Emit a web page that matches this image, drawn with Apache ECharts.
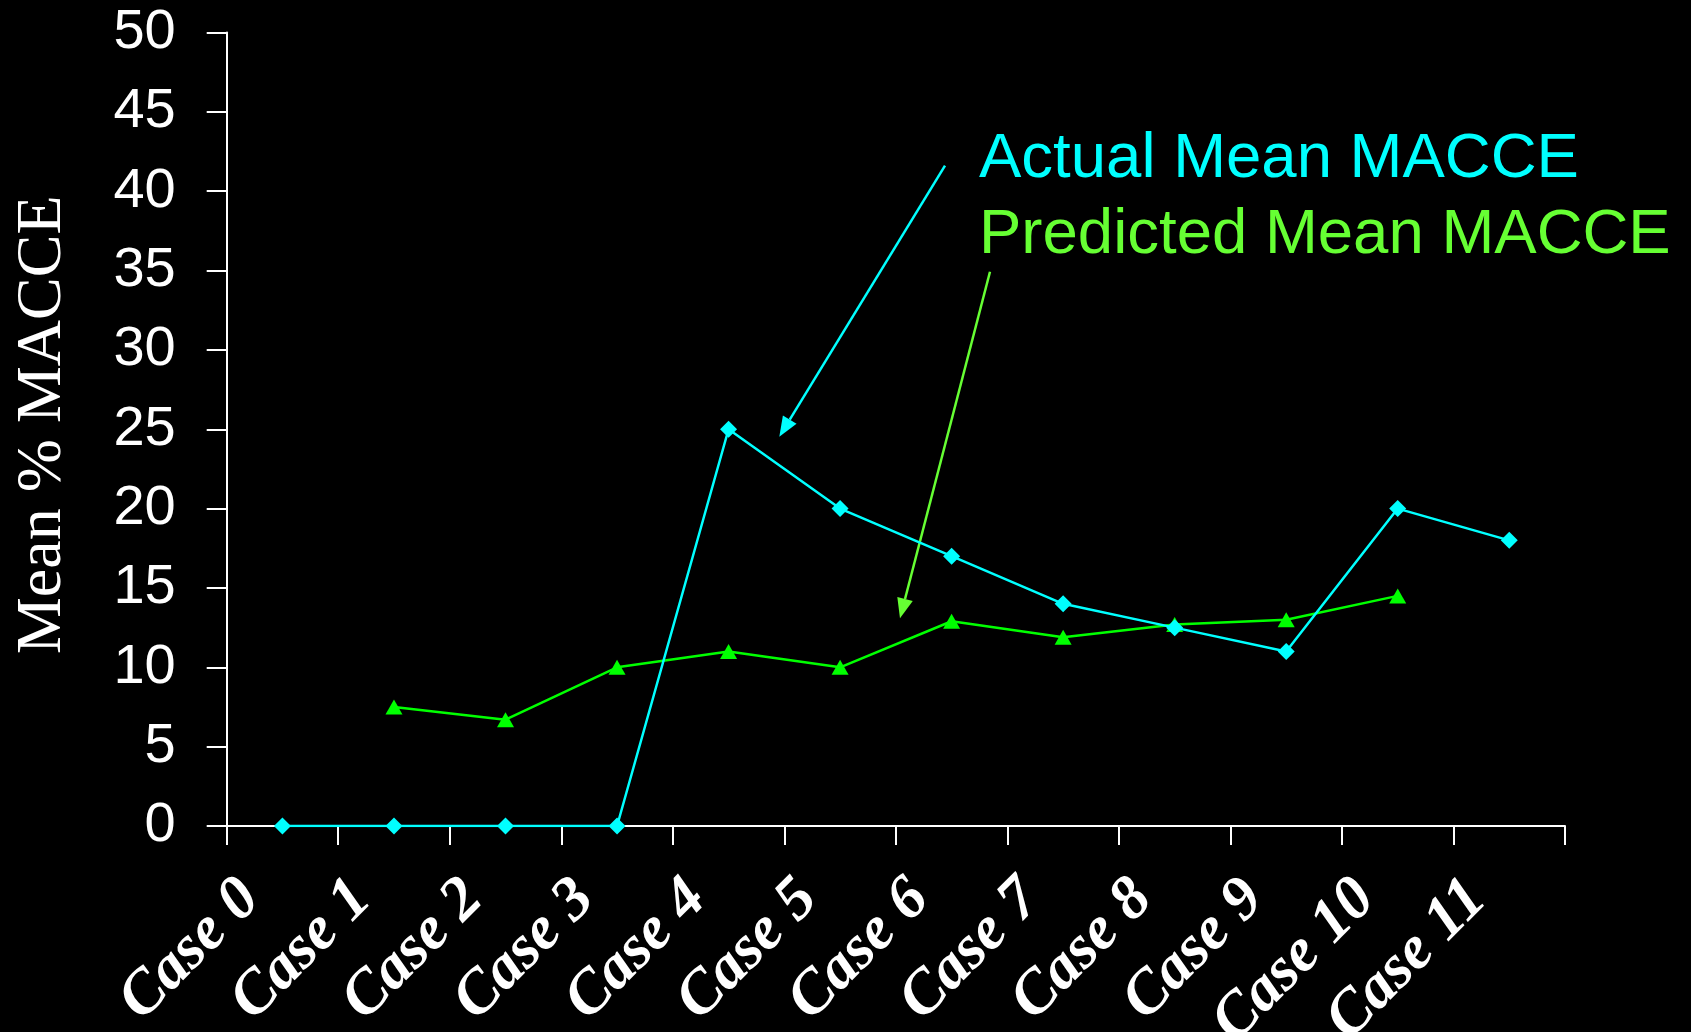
<!DOCTYPE html>
<html>
<head>
<meta charset="utf-8">
<script src="https://cdn.jsdelivr.net/npm/echarts@6/dist/echarts.min.js"></script>
<style>
  html, body { margin: 0; padding: 0; background: #000; }
  #chart { width: 1691px; height: 1032px; }
</style>
</head>
<body>
<div id="chart"></div>
<script>
// Case categories along the x axis
const cases = ['Case 0', 'Case 1', 'Case 2', 'Case 3', 'Case 4', 'Case 5',
               'Case 6', 'Case 7', 'Case 8', 'Case 9', 'Case 10', 'Case 11'];

// Mean % MACCE per case
const actualMacce = [0, 0, 0, 0, 25, 20, 17, 14, 12.5, 11, 20, 18];
const predictedMacce = [null, 7.5, 6.7, 10, 11, 10, 12.9, 11.9, 12.7, 13, 14.5, null];

// Series names, shown as callout text
const actualName = 'Actual Mean MACCE';
const predictedName = 'Predicted Mean MACCE';

const CYAN = '#00FFFF';
const GREEN_LINE = '#00FF00';
const GREEN_TEXT = '#66FF33';

const chart = echarts.init(document.getElementById('chart'), null, { renderer: 'canvas' });

// Callout arrow: shaft plus a filled triangular head at (x2, y2)
function arrow(x1, y1, x2, y2, color) {
  const dx = x2 - x1, dy = y2 - y1;
  const len = Math.sqrt(dx * dx + dy * dy);
  const ux = dx / len, uy = dy / len;
  const headLen = 20, headHalf = 8;
  const bx = x2 - ux * headLen, by = y2 - uy * headLen;
  const px = -uy, py = ux;
  return [
    {
      type: 'line', silent: true,
      shape: { x1: x1, y1: y1, x2: bx, y2: by },
      style: { stroke: color, lineWidth: 2.5 }
    },
    {
      type: 'polygon', silent: true,
      shape: { points: [[x2, y2], [bx + px * headHalf, by + py * headHalf], [bx - px * headHalf, by - py * headHalf]] },
      style: { fill: color }
    }
  ];
}

chart.setOption({
  backgroundColor: '#000000',
  animation: false,
  grid: {
    left: 226.7, right: 126, top: 32.5, bottom: 206,
    containLabel: false,
    outerBoundsMode: 'none'
  },
  xAxis: {
    type: 'category',
    data: cases,
    boundaryGap: true,
    axisLine: { lineStyle: { color: '#FFFFFF', width: 2 } },
    axisTick: { show: true, length: 19, alignWithLabel: false, lineStyle: { color: '#FFFFFF', width: 2 } },
    axisLabel: {
      interval: 0,
      rotate: 45,
      margin: 32,
      padding: [0, 45, 0, 0],
      color: '#FFFFFF',
      fontFamily: '"Liberation Serif", "Times New Roman", serif',
      fontWeight: 'bold',
      fontStyle: 'italic',
      fontSize: 62
    },
    splitLine: { show: false }
  },
  yAxis: {
    type: 'value',
    min: 0,
    max: 50,
    interval: 5,
    name: 'Mean % MACCE',
    nameLocation: 'middle',
    nameGap: 152,
    nameTextStyle: {
      color: '#FFFFFF',
      fontFamily: '"Liberation Serif", "Times New Roman", serif',
      fontSize: 64,
      padding: [0, 0, 0, 9]
    },
    axisLine: { show: true, lineStyle: { color: '#FFFFFF', width: 2 } },
    axisTick: { show: true, length: 20, lineStyle: { color: '#FFFFFF', width: 2 } },
    axisLabel: {
      margin: 51,
      color: '#FFFFFF',
      fontFamily: '"Liberation Sans", Arial, sans-serif',
      fontSize: 56
    },
    splitLine: { show: false }
  },
  series: [
    {
      name: actualName,
      type: 'line',
      data: actualMacce,
      symbol: 'diamond',
      symbolSize: 17,
      itemStyle: { color: CYAN },
      lineStyle: { color: CYAN, width: 2.5 },
      z: 3
    },
    {
      name: predictedName,
      type: 'line',
      data: predictedMacce,
      symbol: 'triangle',
      symbolSize: [17, 15],
      itemStyle: { color: GREEN_LINE },
      lineStyle: { color: GREEN_LINE, width: 2.5 },
      z: 2
    }
  ],
  graphic: [
    {
      type: 'text', left: 979, top: 127, silent: true,
      style: { text: actualName, fill: CYAN, font: '63.5px "Liberation Sans", Arial, sans-serif' }
    },
    {
      type: 'text', left: 979, top: 203, silent: true,
      style: { text: predictedName, fill: GREEN_TEXT, font: '63.5px "Liberation Sans", Arial, sans-serif' }
    }
  ].concat(arrow(945, 165.7, 779.3, 436.7, CYAN), arrow(990, 271.7, 900, 618.3, GREEN_TEXT))
});
</script>
</body>
</html>
